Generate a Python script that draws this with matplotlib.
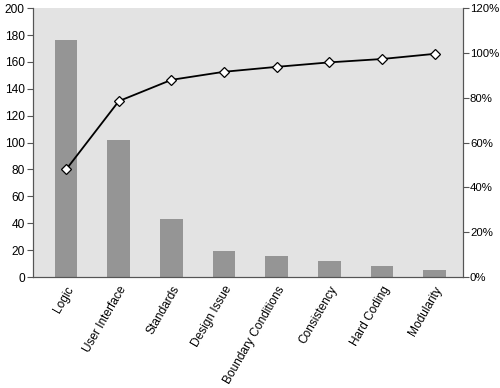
import numpy as np
import matplotlib
matplotlib.use("Agg")
import matplotlib.pyplot as plt
from matplotlib.ticker import FuncFormatter

categories = ["Logic", "User Interface", "Standards", "Design Issue",
              "Boundary Conditions", "Consistency", "Hard Coding", "Modularity"]
counts = [176, 102, 43, 19, 16, 12, 8, 5]
cum_pct = [48, 78.5, 88, 91.6, 93.8, 95.8, 97.3, 99.6]

plt.rcParams["font.family"] = ["Liberation Sans", "DejaVu Sans"]
plt.rcParams["font.size"] = 8.6

fig = plt.figure(figsize=(5, 3.88), dpi=100)
ax = fig.add_axes([0.066, 0.286, 0.86, 0.693])
ax.set_facecolor("#e3e3e3")

x = np.arange(len(categories))
ax.bar(x, counts, width=0.43, color="#959595", zorder=2)
ax.set_xlim(-0.63, 7.54)
ax.set_ylim(0, 200)
ax.set_yticks(range(0, 201, 20))
ax.set_xticks(x)
ax.set_xticklabels(categories, rotation=60, ha="right", rotation_mode="anchor")
ax.tick_params(axis="x", length=0, pad=5)
ax.tick_params(axis="y", length=4, color="#555555", pad=2)
ax.spines["top"].set_visible(False)
for s in ["left", "right", "bottom"]:
    ax.spines[s].set_color("#555555")

ax2 = ax.twinx()
ax2.plot(x, cum_pct, color="black", lw=1.3, marker="D", ms=5.5,
         mfc="white", mec="black", mew=0.9, zorder=3, clip_on=False)
ax2.set_ylim(0, 120)
ax2.set_yticks(range(0, 121, 20))
ax2.yaxis.set_major_formatter(FuncFormatter(lambda v, p: "%d%%" % v))
ax2.tick_params(axis="y", length=4, color="#555555", pad=1, labelsize=8.2)
ax2.spines["top"].set_visible(False)
for s in ["left", "right", "bottom"]:
    ax2.spines[s].set_color("#555555")

fig.savefig("out.png", dpi=100)
